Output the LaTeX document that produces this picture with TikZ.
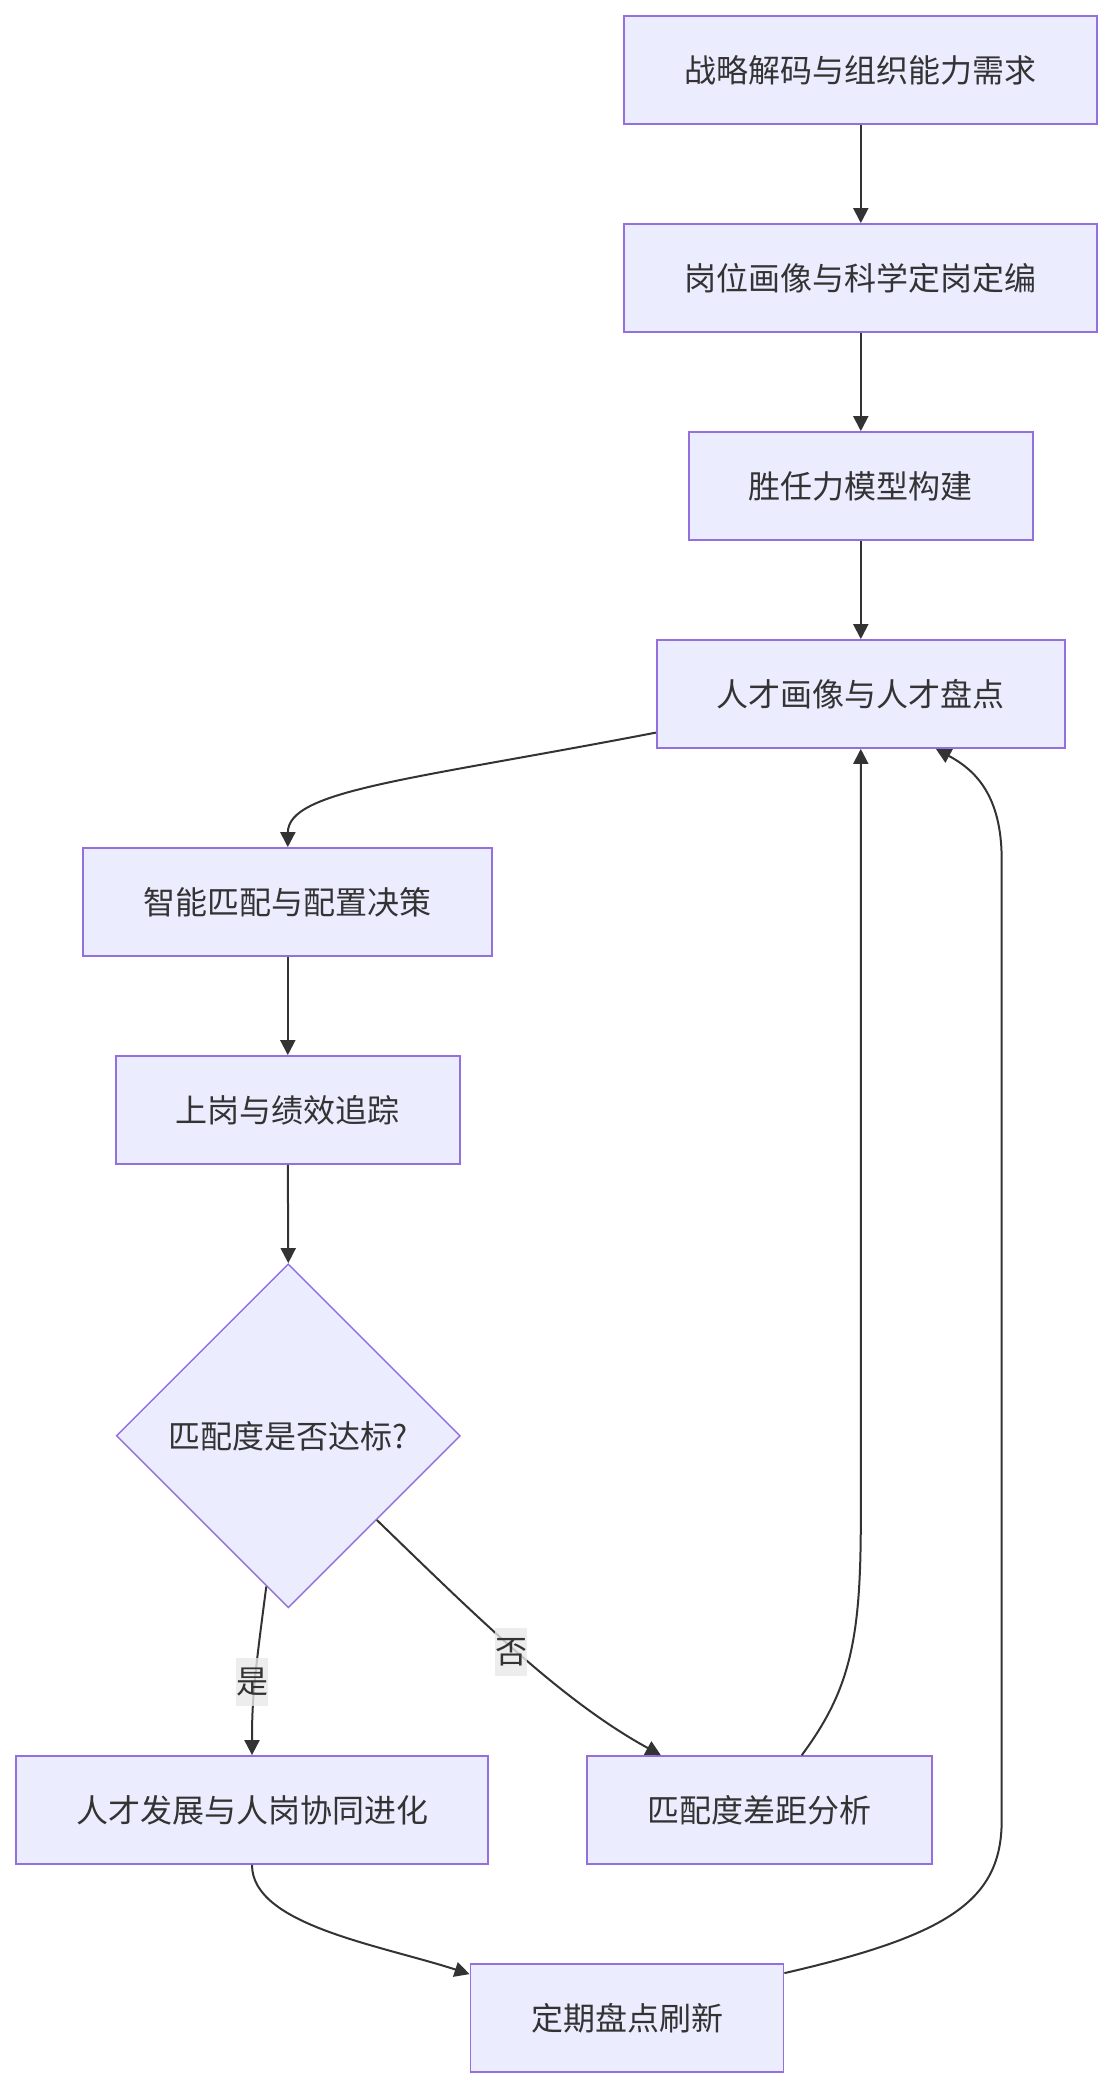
\documentclass[tikz,border=0pt]{standalone}
\usepackage{fontspec}
\setmainfont{Noto Sans CJK SC}
\usetikzlibrary{shapes.geometric,arrows.meta,calc}
\definecolor{nodefill}{HTML}{ECECFF}
\definecolor{nodeline}{HTML}{9370DB}
\definecolor{ink}{HTML}{333333}
\definecolor{lblbg}{HTML}{E8E8E8}
\begin{document}
\begin{tikzpicture}[x=1pt,y=-1pt,
  txt/.style={text=ink, font=\fontsize{32}{40}\selectfont},
  box/.style={txt, draw=nodeline, fill=nodefill, line width=1.8pt, minimum height=108pt, inner sep=0pt},
  decision/.style={txt, diamond, aspect=1, draw=nodeline, fill=nodefill, line width=1.4pt, minimum width=344pt, minimum height=344pt, inner sep=0pt},
  edge/.style={draw=ink, line width=2pt, -{Triangle[length=15pt,width=15pt]}},
  lbl/.style={txt, fill=lblbg, fill opacity=0.8, text opacity=1, inner sep=0pt, minimum width=32pt, minimum height=48pt}
]
\useasboundingbox (0,0) rectangle (1113,2087);

\node[box, minimum width=473pt] (n1) at (860.8,70) {战略解码与组织能力需求};
\node[box, minimum width=473pt] (n2) at (860.8,278) {岗位画像与科学定岗定编};
\node[box, minimum width=344pt] (n3) at (860.8,486) {胜任力模型构建};
\node[box, minimum width=408pt] (n4) at (860.8,694) {人才画像与人才盘点};
\node[box, minimum width=409pt] (n5) at (287.8,902) {智能匹配与配置决策};
\node[box, minimum width=344pt] (n6) at (287.8,1110) {上岗与绩效追踪};
\node[decision] (d) at (288.3,1435.8) {匹配度是否达标?};
\node[box, minimum width=472pt] (n8) at (252,1810) {人才发展与人岗协同进化};
\node[box, minimum width=345pt] (n9) at (759.5,1810) {匹配度差距分析};
\node[box, minimum width=313pt] (n10) at (627,2018) {定期盘点刷新};

\draw[edge] (n1.south) -- (n2.north);
\draw[edge] (n2.south) -- (n3.north);
\draw[edge] (n3.south) -- (n4.north);
\draw[edge] ($(n4.south west)+(0,-16.3)$) .. controls (410,780) and (288,790) .. (n5.north);
\draw[edge] (n5.south) -- (n6.north);
\draw[edge] (n6.south) -- (d.north);
\draw[edge] ($(d.south)+(-22,-22)$) .. controls (254,1680) and (252,1700) .. (n8.north);
\draw[edge] ($(d.south)+(88.5,-88.5)$) .. controls (472,1612) and (560,1700) .. ($(n9.north west)+(74.7,0)$);
\draw[edge] ($(n9.north west)+(215.7,0)$) .. controls (850,1690) and (860.8,1640) .. (860.8,1520) -- (n4.south);
\draw[edge] (n8.south) .. controls (252,1925) and (380,1945) .. ($(n10.north west)+(0,11)$);
\draw[edge] ($(n10.north east)+(0,10)$) .. controls (950,1935) and (1001.7,1900) .. (1001.7,1820) -- (1001.7,860) .. controls (1001.7,795) and (975,770) .. ($(n4.south west)+(280,0)$);

\node[lbl] (l1) at (252,1681.7) {是};
\node[lbl] (l2) at (511,1652) {否};
\end{tikzpicture}
\end{document}
